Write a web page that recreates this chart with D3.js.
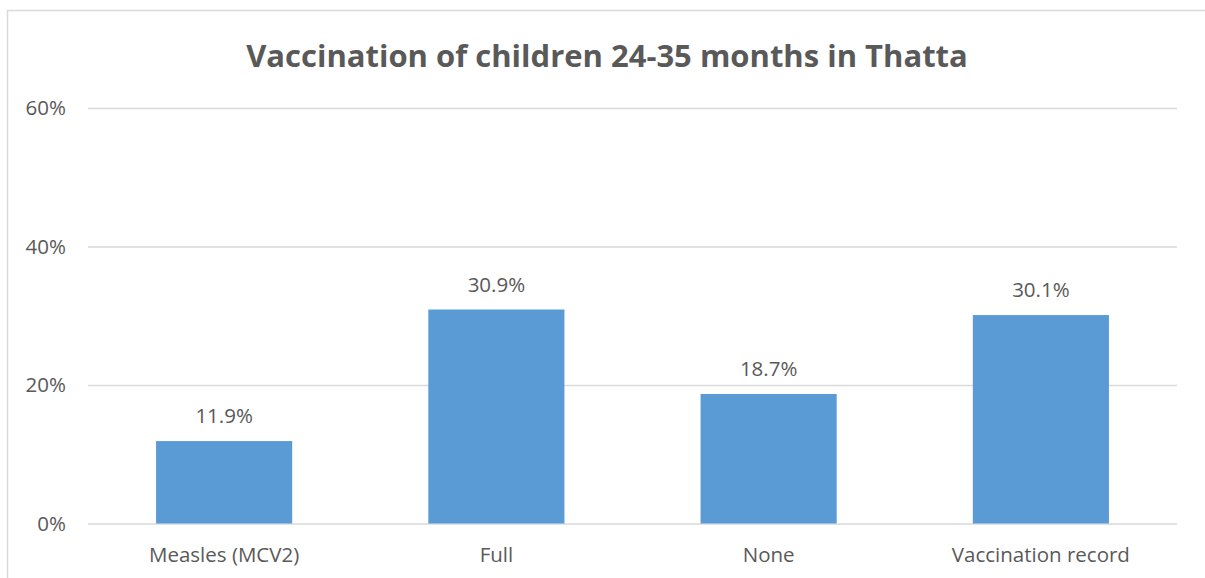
<!DOCTYPE html>
<html>
<head>
<meta charset="utf-8">
<script src="https://cdn.jsdelivr.net/npm/d3@7"></script>
<style>
  html, body { margin: 0; padding: 0; background: #fff; }
  svg { display: block; }
  text { font-family: "Open Sans", "Noto Sans", sans-serif; fill: #595959; }
</style>
</head>
<body>
<svg id="chart" width="1205" height="578"></svg>
<script>
// Chart data
const categories = ["Measles (MCV2)", "Full", "None", "Vaccination record"];
const values = [11.9, 30.9, 18.7, 30.1];
const yTicks = [0, 20, 40, 60];
const title = "Vaccination of children 24-35 months in Thatta";

const W = 1205, H = 578;
const plot = { left: 88, right: 1177, top: 108, bottom: 523.5 };
const labelSize = "20.5px";

const svg = d3.select("#chart");

// Outer chart frame
svg.append("rect")
  .attr("x", 7.5).attr("y", 10.5)
  .attr("width", W + 10).attr("height", H + 10)
  .attr("fill", "none").attr("stroke", "#D9D9D9").attr("stroke-width", 1.5);

const x = d3.scaleBand()
  .domain(categories)
  .range([plot.left, plot.right])
  .paddingInner(0.5)
  .paddingOuter(0.25);

const y = d3.scaleLinear()
  .domain([0, 60])
  .range([plot.bottom, plot.top]);

// Title
svg.append("text")
  .attr("x", 607)
  .attr("y", 67)
  .attr("text-anchor", "middle")
  .style("font-size", "31px")
  .style("font-weight", "bold")
  .text(title);

// Gridlines and y tick labels
const yAxis = d3.axisLeft(y)
  .tickValues(yTicks)
  .tickSize(-(plot.right - plot.left))
  .tickPadding(22)
  .tickFormat(d => d + "%");

const gy = svg.append("g")
  .attr("transform", `translate(${plot.left},0)`)
  .call(yAxis);
gy.select(".domain").remove();
gy.selectAll(".tick line").attr("stroke", "#D9D9D9").attr("stroke-width", 1.5);
gy.selectAll(".tick text")
  .style("font-size", labelSize)
  .style("font-family", "\"Open Sans\", sans-serif")
  .attr("fill", "#595959");

// Bars
svg.append("g").selectAll("rect")
  .data(values)
  .join("rect")
  .attr("x", (d, i) => x(categories[i]))
  .attr("y", d => y(d))
  .attr("width", x.bandwidth())
  .attr("height", d => y(0) - y(d))
  .attr("fill", "#5B9BD5");

// Value labels
svg.append("g").selectAll("text")
  .data(values)
  .join("text")
  .attr("x", (d, i) => x(categories[i]) + x.bandwidth() / 2)
  .attr("y", d => y(d) - 18)
  .attr("text-anchor", "middle")
  .style("font-size", labelSize)
  .text(d => d.toFixed(1) + "%");

// Category axis labels
const xAxis = d3.axisBottom(x).tickSize(0).tickPadding(24);
const gx = svg.append("g")
  .attr("transform", `translate(0,${plot.bottom})`)
  .call(xAxis);
gx.select(".domain").remove();
gx.selectAll(".tick text")
  .style("font-size", labelSize)
  .style("font-family", "\"Open Sans\", sans-serif")
  .attr("fill", "#595959");
</script>
</body>
</html>
